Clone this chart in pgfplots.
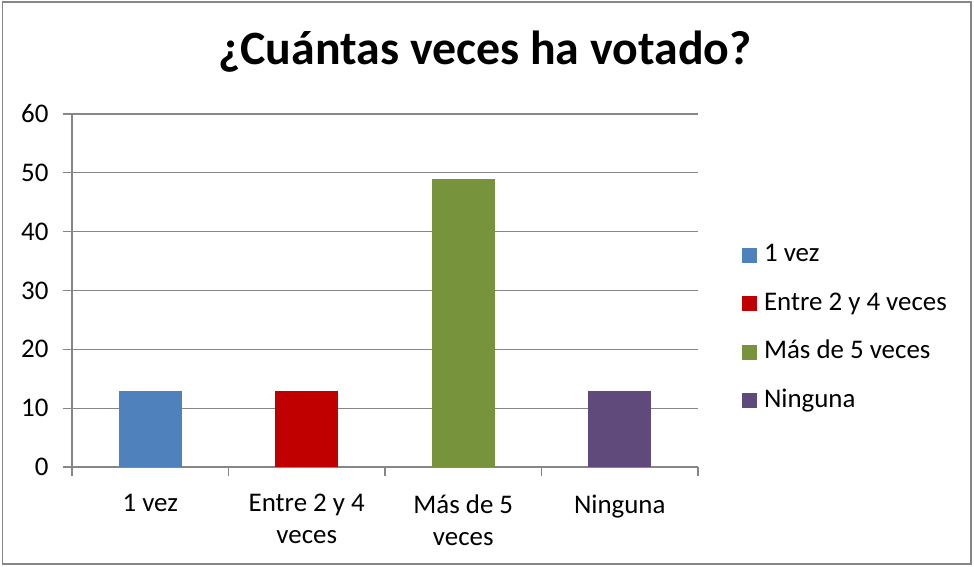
\documentclass[border=0pt]{standalone}
\usepackage{fontspec}
\setmainfont{Carlito}
\usepackage{pgfplots}
\pgfplotsset{compat=1.18}
\definecolor{cvez}{RGB}{79,129,189}
\definecolor{centre}{RGB}{192,0,0}
\definecolor{cmas}{RGB}{119,147,60}
\definecolor{cning}{RGB}{96,74,123}
\definecolor{axgray}{RGB}{134,134,134}
\begin{document}
\begin{tikzpicture}[x=1bp,y=1bp]
\useasboundingbox (0,0) rectangle (974,567);
\draw[color=axgray, line width=1.6bp] (2.5,3) rectangle (971,565);
\node[font=\bfseries\fontsize{48}{52}\selectfont] at (485,515) {¿Cuántas veces ha votado?};
\begin{axis}[
    at={(72bp,100bp)}, anchor=south west,
    scale only axis, width=626bp, height=353bp,
    ybar, bar width=63bp,
    xmin=-0.5, xmax=3.5, ymin=0, ymax=60,
    ytick={0,10,...,60},
    xtick={0,1,2,3},
    xticklabels={1 vez, Entre 2 y 4\\veces, Más de 5\\veces, Ninguna},
    minor xtick={-0.5,0.5,1.5,2.5,3.5},
    major x tick style={draw=none},
    minor tick length=9bp, major tick length=9bp,
    tick align=outside,
    axis lines*=left,
    axis line style={-, draw=axgray, line width=1.3bp},
    tick style={draw=axgray, line width=1.3bp},
    ymajorgrids, grid style={draw=axgray, line width=1.3bp},
    /pgf/number format/assume math mode=true,
    tick label style={font=\fontsize{27}{32}\selectfont, text=black},
    xticklabel style={align=center, yshift=-15bp},
    yticklabel style={xshift=-11bp},
    legend cell align=left,
    legend image code/.code={\fill[#1,draw=none] (0bp,-7bp) rectangle (15bp,8bp);},
    legend style={at={(1.07,0.392)}, anchor=west, draw=none, fill=none,
        inner sep=0pt, row sep=26.5bp, column sep=7bp,
        font=\fontsize{27}{32}\selectfont,
        nodes={inner sep=0pt, text height=17bp, text depth=5bp}},
]
\addplot[fill=cvez, draw=none, bar shift=0pt] coordinates {(0,13)};
\addlegendentry{1 vez}
\addplot[fill=centre, draw=none, bar shift=0pt] coordinates {(1,13)};
\addlegendentry{Entre 2 y 4 veces}
\addplot[fill=cmas, draw=none, bar shift=0pt] coordinates {(2,49)};
\addlegendentry{Más de 5 veces}
\addplot[fill=cning, draw=none, bar shift=0pt] coordinates {(3,13)};
\addlegendentry{Ninguna}
\end{axis}
\end{tikzpicture}
\end{document}
